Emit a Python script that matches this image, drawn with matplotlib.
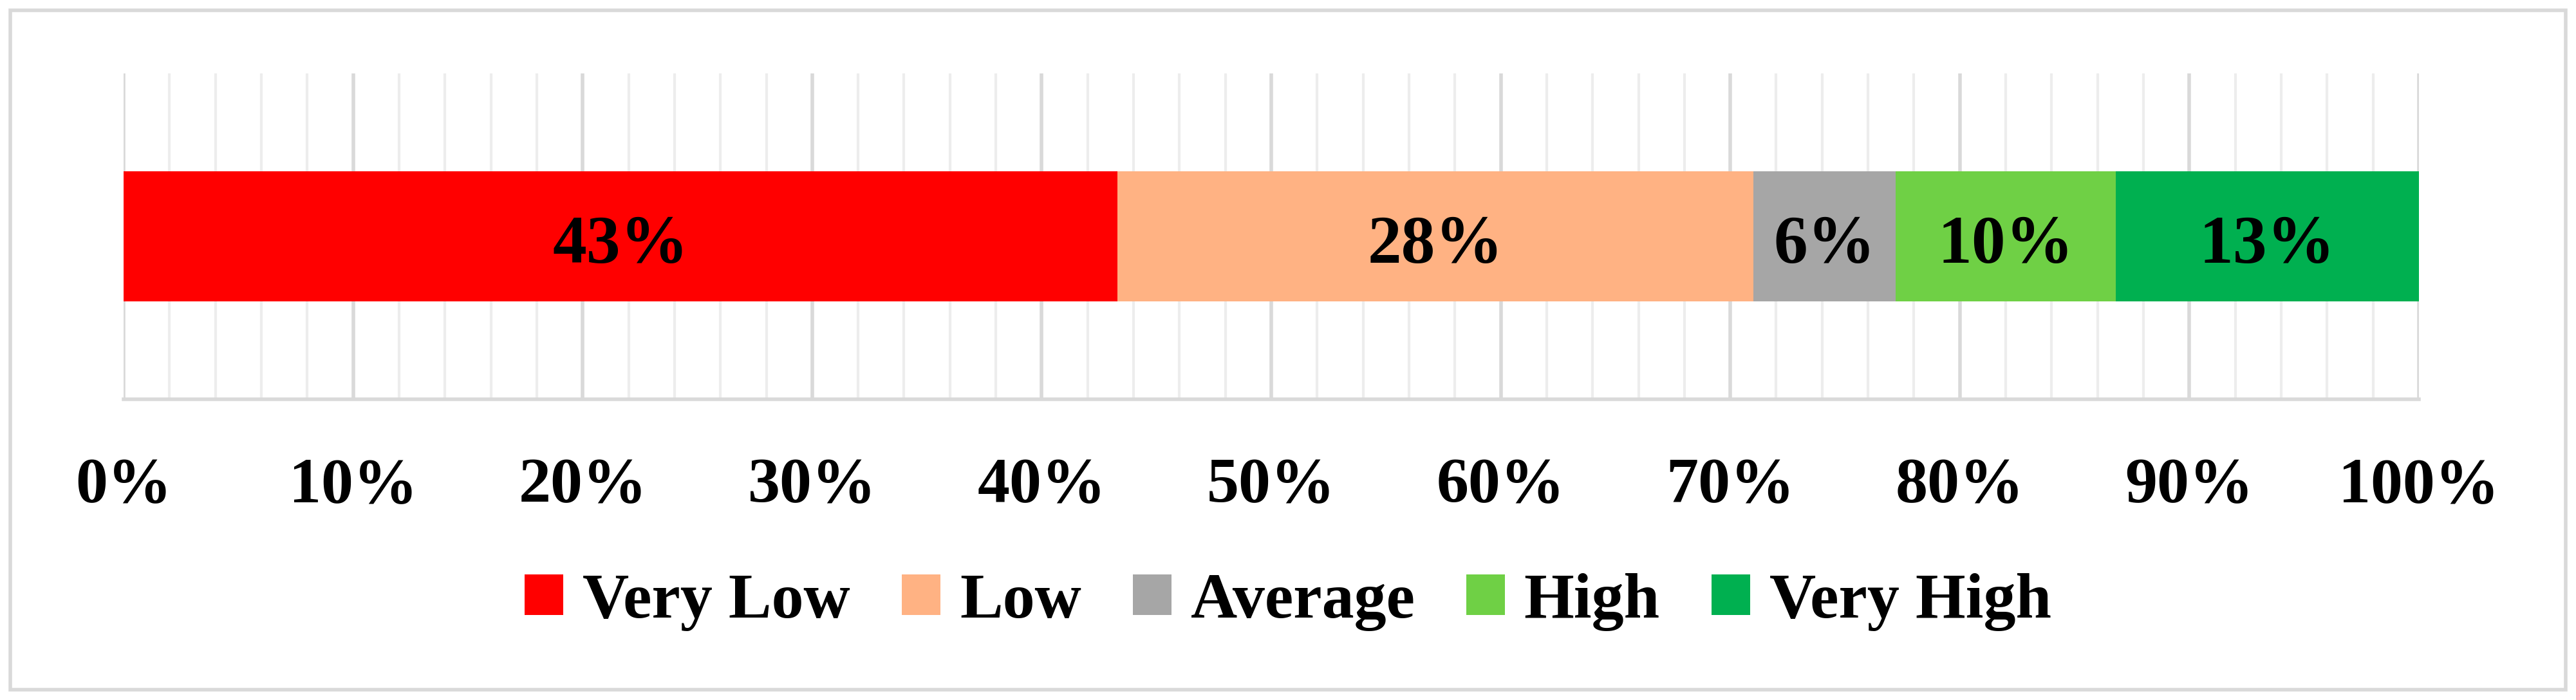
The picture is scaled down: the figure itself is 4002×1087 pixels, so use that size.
import matplotlib
matplotlib.use("Agg")
import matplotlib.pyplot as plt
from matplotlib.ticker import MultipleLocator, PercentFormatter
from matplotlib.patches import Rectangle

categories = ["Very Low", "Low", "Average", "High", "Very High"]
values = [43.3, 27.7, 6.2, 9.6, 13.2]
labels = ["43%", "28%", "6%", "10%", "13%"]
colors = ["#FF0000", "#FFB283", "#A6A6A6", "#6FD045", "#00B050"]

plt.rcParams['font.family'] = ['Liberation Serif', 'DejaVu Serif']
plt.rcParams['font.weight'] = 'bold'
fs = 72

fig = plt.figure(figsize=(40.02, 10.87), dpi=100)
fig.patches.append(Rectangle((0.004, 0.015), 0.992, 0.97, transform=fig.transFigure,
                             fill=False, edgecolor="#D9D9D9", linewidth=4))
ax = fig.add_axes([0.048, 0.43, 0.891, 0.465])
left = 0
for c, v, l, col in zip(categories, values, labels, colors):
    ax.barh(0, v, left=left, height=0.4, color=col, label=c, zorder=3)
    ax.text(left + v / 2, -0.03, l, ha="center", va="center", fontsize=fs + 4, fontweight="bold", zorder=4)
    left += v
ax.set_xlim(0, 100)
ax.set_ylim(-0.5, 0.5)
ax.xaxis.set_major_locator(MultipleLocator(10))
ax.xaxis.set_minor_locator(MultipleLocator(2))
ax.xaxis.set_major_formatter(PercentFormatter(decimals=0))
ax.grid(which="major", axis="x", color="#D9D9D9", linewidth=4, zorder=0)
ax.grid(which="minor", axis="x", color="#EDEDED", linewidth=3, zorder=0)
ax.set_yticks([])
for s in ["top", "right", "left"]:
    ax.spines[s].set_visible(False)
ax.spines["bottom"].set_color("#D9D9D9")
ax.spines["bottom"].set_linewidth(4)
ax.tick_params(axis="x", which="both", length=0, labelsize=fs, pad=65)
for t in ax.get_xticklabels():
    t.set_fontweight("bold")
fig.legend(loc="center", bbox_to_anchor=(0.5, 0.14), ncol=5, frameon=False,
           prop={"size": fs, "weight": "bold"}, handlelength=0.6, handleheight=0.6,
           handletextpad=0.3, columnspacing=0.8)
fig.savefig("out.png", dpi=100)
